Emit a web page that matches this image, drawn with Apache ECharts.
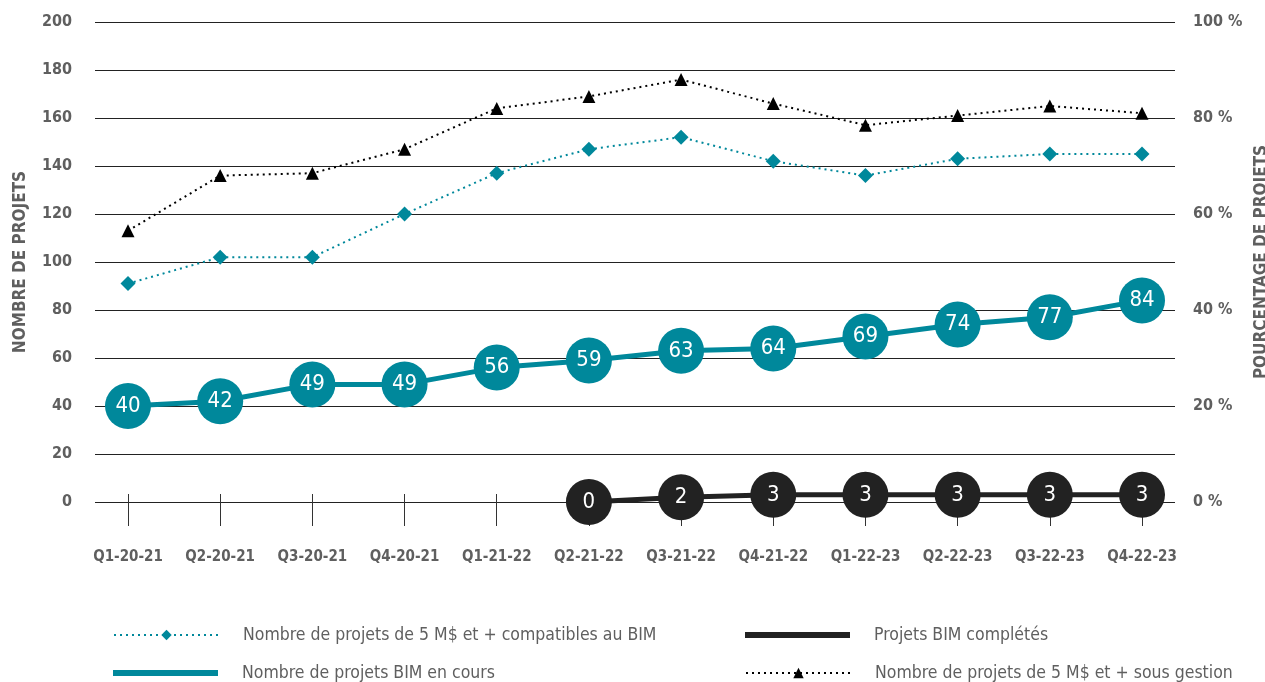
<!DOCTYPE html>
<html>
<head>
<meta charset="utf-8">
<script src="https://cdn.jsdelivr.net/npm/echarts@6/dist/echarts.min.js"></script>
<style>
  html, body { margin: 0; padding: 0; background: #fff; }
  #chart { width: 1265px; height: 682px; }
</style>
</head>
<body>
<div id="chart"></div>
<script>
const categories = ['Q1-20-21', 'Q2-20-21', 'Q3-20-21', 'Q4-20-21', 'Q1-21-22', 'Q2-21-22',
  'Q3-21-22', 'Q4-21-22', 'Q1-22-23', 'Q2-22-23', 'Q3-22-23', 'Q4-22-23'];
const compatibles = [91, 102, 102, 120, 137, 147, 152, 142, 136, 143, 145, 145];
const enCours = [40, 42, 49, 49, 56, 59, 63, 64, 69, 74, 77, 84];
const completes = [null, null, null, null, null, 0, 2, 3, 3, 3, 3, 3];
const sousGestion = [113, 136, 137, 147, 164, 169, 176, 166, 157, 161, 165, 162];
const leftTicks = [0, 200, 20];
const rightTicks = [0, 100, 20];

const TEAL = '#00889b';
const DARK = '#222222';
const GREY = '#5f5f5f';
const FONT = "'DejaVu Sans Condensed', 'Liberation Sans Narrow', sans-serif";

const chart = echarts.init(document.getElementById('chart'));

// une légende par entrée, placée comme dans l'original
function legendAt(name, left, top, icon) {
  const item = { name: name };
  if (icon) item.icon = icon;
  return {
    data: [item],
    left: left, top: top,
    itemWidth: 105, itemHeight: icon ? 6 : 13,
    padding: 0,
    textStyle: { fontFamily: FONT, fontSize: 17.5, color: GREY, padding: [0, 0, 0, 19] },
    selectedMode: false
  };
}

const axisFont = { fontFamily: FONT, fontSize: 16, fontWeight: 'bold', color: GREY };

const option = {
  animation: false,
  textStyle: { fontFamily: FONT },
  grid: [
    { left: 95, right: 90, top: 22, bottom: 180, outerBoundsMode: 'none' },
    { left: 128, right: 123, top: 22, bottom: 180, outerBoundsMode: 'none' }
  ],
  legend: [
    legendAt('Nombre de projets de 5 M$ et + compatibles au BIM', 113, 626),
    legendAt('Nombre de projets BIM en cours', 113, 664, 'rect'),
    legendAt('Projets BIM complétés', 745, 626, 'rect'),
    legendAt('Nombre de projets de 5 M$ et + sous gestion', 745, 664)
  ],
  xAxis: [
    { type: 'category', gridIndex: 0, data: categories, show: false },
    {
      type: 'category', gridIndex: 1, data: categories, boundaryGap: false,
      offset: -8,
      axisLine: { show: false },
      axisTick: { show: true, interval: 0, length: 32, lineStyle: { color: '#333', width: 1 } },
      axisLabel: Object.assign({ interval: 0, margin: 56 }, axisFont, { fontSize: 15 })
    }
  ],
  yAxis: [
    {
      type: 'value', gridIndex: 0, min: leftTicks[0], max: leftTicks[1], interval: leftTicks[2],
      name: 'NOMBRE DE PROJETS', nameLocation: 'middle', nameRotate: 90, nameGap: 66,
      nameTextStyle: Object.assign({}, axisFont, { fontSize: 17 }),
      axisLine: { show: false }, axisTick: { show: false },
      axisLabel: Object.assign({ margin: 23 }, axisFont),
      splitLine: { show: true, lineStyle: { color: '#222', width: 1 } }
    },
    {
      type: 'value', gridIndex: 0, position: 'right',
      min: rightTicks[0], max: rightTicks[1], interval: rightTicks[2],
      name: 'POURCENTAGE DE PROJETS', nameLocation: 'middle', nameRotate: 90, nameGap: 73,
      nameTextStyle: Object.assign({}, axisFont, { fontSize: 17 }),
      axisLine: { show: false }, axisTick: { show: false },
      axisLabel: Object.assign({ margin: 18, formatter: '{value} %' }, axisFont),
      splitLine: { show: false }
    },
    {
      type: 'value', gridIndex: 1, min: leftTicks[0], max: leftTicks[1], show: false
    }
  ],
  series: [
    {
      name: 'Nombre de projets de 5 M$ et + compatibles au BIM',
      type: 'line', xAxisIndex: 1, yAxisIndex: 2, data: compatibles,
      symbol: 'diamond', symbolSize: 15,
      lineStyle: { color: TEAL, width: 2, type: [2, 4] },
      itemStyle: { color: TEAL },
      z: 3
    },
    {
      name: 'Nombre de projets de 5 M$ et + sous gestion',
      type: 'line', xAxisIndex: 1, yAxisIndex: 2, data: sousGestion,
      symbol: 'triangle', symbolSize: 13,
      lineStyle: { color: '#000', width: 2, type: [2, 4] },
      itemStyle: { color: '#000' },
      z: 3
    },
    {
      name: 'Nombre de projets BIM en cours',
      type: 'line', xAxisIndex: 1, yAxisIndex: 2, data: enCours,
      symbol: 'circle', symbolSize: 46, showAllSymbol: true,
      lineStyle: { color: TEAL, width: 5 },
      itemStyle: { color: TEAL },
      label: { show: true, position: 'inside', color: '#fff', fontFamily: FONT, fontSize: 22 },
      z: 4
    },
    {
      name: 'Projets BIM complétés',
      type: 'line', xAxisIndex: 1, yAxisIndex: 2, data: completes,
      symbol: 'circle', symbolSize: 46, showAllSymbol: true,
      lineStyle: { color: DARK, width: 5 },
      itemStyle: { color: DARK },
      label: { show: true, position: 'inside', color: '#fff', fontFamily: FONT, fontSize: 22 },
      z: 4
    }
  ]
};

chart.setOption(option);
</script>
</body>
</html>
